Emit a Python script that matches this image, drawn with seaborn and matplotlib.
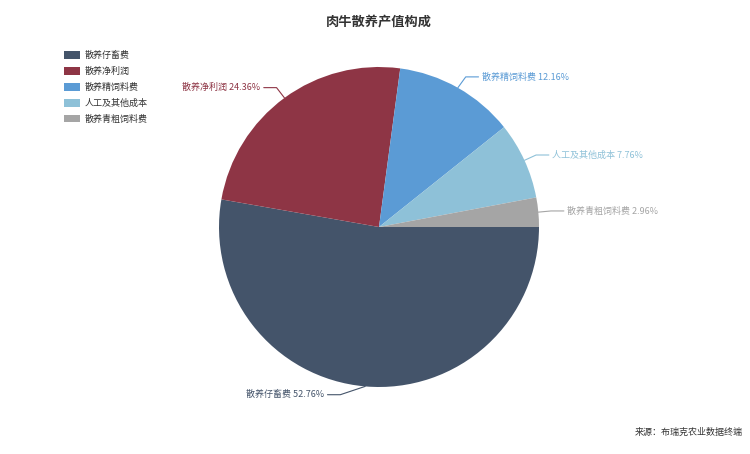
import numpy as np
import seaborn as sns
import matplotlib.pyplot as plt
from matplotlib.patches import Patch

# Data
categories = ["散养仔畜费", "散养净利润", "散养精饲料费", "人工及其他成本", "散养青粗饲料费"]
shares = [52.76, 24.36, 12.16, 7.76, 2.96]
colors = ["#44546a", "#8e3545", "#5b9bd5", "#8ec1d8", "#a5a5a5"]
title = "肉牛散养产值构成"
source = "来源：布瑞克农业数据终端"

sns.set_theme(style="white")
plt.rcParams["font.family"] = ["Noto Sans CJK SC", "DejaVu Sans"]

W, H = 750, 454
fig = plt.figure(figsize=(W / 100, H / 100), dpi=100)
fig.patch.set_facecolor("white")

# pie axes: centre (379, 227), radius 160 px
cx, cy, r = 379, 227, 160
ax = fig.add_axes([(cx - r) / W, (H - cy - r) / H, 2 * r / W, 2 * r / H])
palette = sns.color_palette(colors)
wedges, _ = ax.pie(shares, colors=palette, startangle=0, counterclock=False,
                   radius=1, wedgeprops=dict(linewidth=0))
ax.set_xlim(-1, 1)
ax.set_ylim(-1, 1)
ax.set_aspect("equal")
ax.axis("off")

# leader lines and labels (elbow pushed sideways for near-vertical slices)
for w, name, val, col in zip(wedges, categories, shares, colors):
    ang = np.deg2rad((w.theta1 + w.theta2) / 2)
    x, y = np.cos(ang), np.sin(ang)
    side = 1 if x >= 0 else -1
    steep = abs(y) ** 20
    x1 = 1.08 * x + side * 0.16 * steep
    y1 = y * (1.08 - 0.03 * steep)
    x2 = x1 + side * 0.08
    ax.plot([x, x1, x2], [y, y1, y1], color=col, lw=0.8, clip_on=False)
    ax.text(x2 + side * 0.02, y1, f"{name} {val:.2f}%", color=col, fontsize=6.5,
            ha="left" if side > 0 else "right", va="center")

# legend
handles = [Patch(facecolor=c, edgecolor="none") for c in colors]
fig.legend(handles, categories, loc="upper left",
           bbox_to_anchor=(64 / W, 1 - 51 / H), frameon=False,
           fontsize=6.5, handlelength=1.8, handleheight=0.9, handletextpad=0.45,
           labelspacing=0.75, borderpad=0, borderaxespad=0, labelcolor="#333333")

fig.text(cx / W, 1 - 22 / H, title, ha="center", va="center",
         fontsize=9.5, fontweight="bold", color="#333333")
fig.text(743 / W, 1 - 432 / H, source, ha="right", va="center",
         fontsize=6.5, color="#333333")

fig.savefig("out.png", dpi=100, facecolor="white")
